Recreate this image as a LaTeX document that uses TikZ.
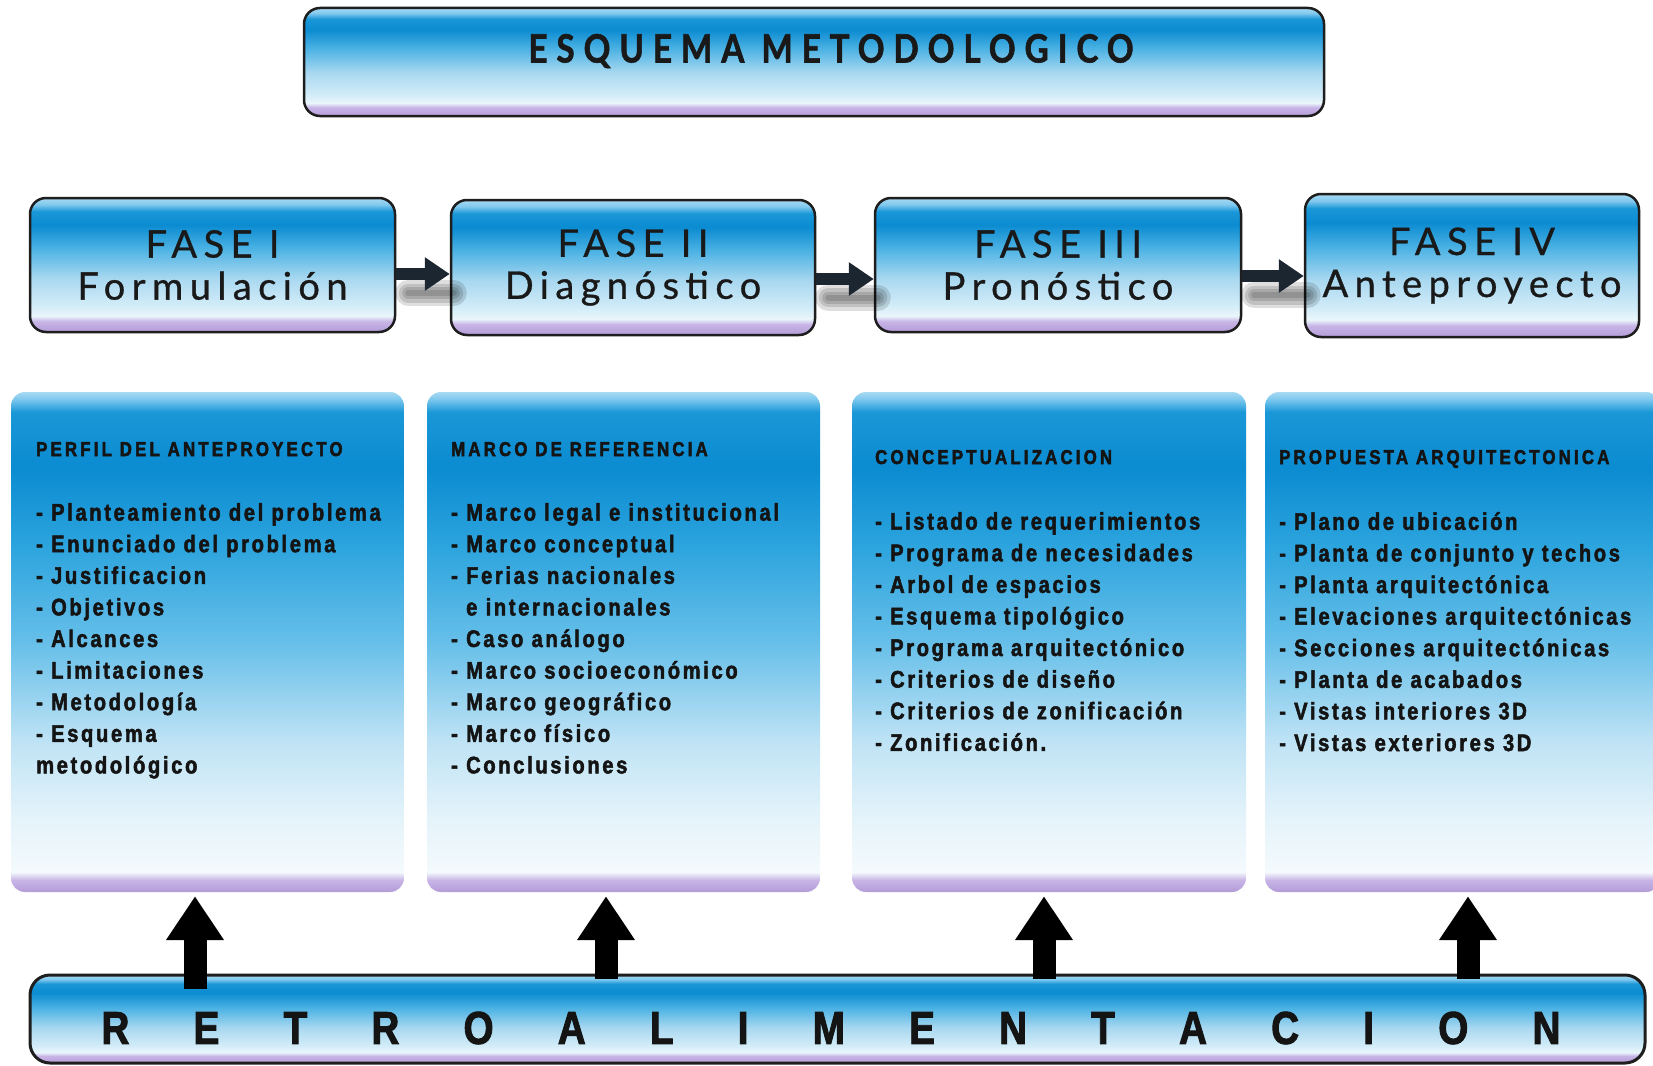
\documentclass[tikz,border=0pt]{standalone}
\usepackage{fontspec}
\usetikzlibrary{arrows.meta,calc}
\newfontfamily\bodyf{Liberation Sans Bold}[FakeStretch=0.84,LetterSpace=11,FakeBold=2]
\newfontfamily\hdrf{Liberation Sans Bold}[FakeStretch=0.84,LetterSpace=16,FakeBold=2.5]
\newfontfamily\barf{Liberation Sans Bold}[FakeStretch=0.84,FakeBold=2]
\newfontfamily\titlef{Lato Bold}[FakeStretch=0.85,LetterSpace=23,FakeBold=1.5]
\newfontfamily\phasef{Lato}[LetterSpace=17,FakeBold=0.8]

\definecolor{lavA}{HTML}{B49CD8}
\definecolor{lavB}{HTML}{C8B5E6}
\definecolor{paleA}{HTML}{EAF6FB}
\definecolor{paleB}{HTML}{D2ECF8}
\definecolor{paleW}{HTML}{F4FAFD}
\definecolor{paleC}{HTML}{E4F3FA}
\definecolor{midC}{HTML}{A9D8F0}
\definecolor{midD}{HTML}{BFE3F5}
\definecolor{midB}{HTML}{4DB3E4}
\definecolor{midE}{HTML}{66BFE9}
\definecolor{midF}{HTML}{2AA3DD}
\definecolor{deepB}{HTML}{0B8BD1}
\definecolor{deepC}{HTML}{1A97D7}
\definecolor{topA}{HTML}{7FC8EE}
\definecolor{topB}{HTML}{A8DAF2}
\definecolor{edge}{HTML}{1E1E1E}
\definecolor{flowc}{HTML}{1C2630}

\pgfdeclareverticalshading{glossy}{100bp}{color(0bp)=(lavA); color(25bp)=(lavA); color(29bp)=(lavB); color(31bp)=(paleA); color(35bp)=(paleB); color(45bp)=(midC); color(56bp)=(midB); color(65bp)=(deepB); color(70bp)=(deepC); color(72.5bp)=(topA); color(75bp)=(topB); color(100bp)=(topB)}
\pgfdeclareverticalshading{panel}{100bp}{color(0bp)=(lavA); color(25bp)=(lavA); color(26.2bp)=(lavB); color(27bp)=(paleW); color(32.5bp)=(paleC); color(40bp)=(midD); color(50bp)=(midE); color(60bp)=(midF); color(67.5bp)=(deepB); color(73bp)=(deepC); color(74.3bp)=(topA); color(75bp)=(topB); color(100bp)=(topB)}

\tikzset{
  glossbox/.style={draw=edge, line width=2.5pt, rounded corners=16pt, shading=glossy, inner sep=0pt},
  phasebox/.style={glossbox, align=center, text=black!90, font=\phasef\fontsize{38}{42}\selectfont},
  panelbox/.style={shading=panel, rounded corners=14pt, inner sep=0pt, minimum height=500pt},
  hdr/.style={inner sep=0pt, anchor=base west, text=black!92, font=\hdrf\fontsize{20}{22}\selectfont},
  lst/.style={inner sep=0pt, anchor=north west, align=left, text=black!92, font=\bodyf\fontsize{24}{31.6}\selectfont},
  flow/.style={draw=flowc, line width=12pt, -{Triangle[width=32pt,length=25pt]}},
  flowshadow/.style={draw=black, opacity=0.13, line width=#1, line cap=round},
  uparr/.style={draw=black, line width=23pt, -{Triangle[width=55pt,length=44pt]}}
}

\begin{document}
\begin{tikzpicture}[x=1pt,y=-1pt]
\useasboundingbox (0,0) rectangle (1653,1065);
\fill[white] (0,0) rectangle (1653,1065);

% title
\node[glossbox, minimum width=1020pt, minimum height=108pt] (title) at (814,62) {};
\node[inner sep=0pt, text=black!90, font=\titlef\fontsize{39}{42}\selectfont] (ttext) at ([xshift=17pt,yshift=11pt]title.center) {ESQUEMA METODOLOGICO};

% phases
\node[phasebox, minimum width=365pt, minimum height=134pt] (p1) at (212.5,265) {FASE I\\Formulación};
\node[phasebox, minimum width=364pt, minimum height=135pt] (p2) at (633,267.5) {FASE II\\Diagnóstico};
\node[phasebox, minimum width=366pt, minimum height=134pt] (p3) at (1058,265) {FASE III\\Pronóstico};
\node[phasebox, minimum width=334pt, minimum height=143pt] (p4) at (1472,265.5) {FASE IV\\Anteproyecto};

% flow arrow shadows (soft)
\foreach \w in {26,19,12,6}{
  \draw[flowshadow=\w pt] ([xshift=12pt,yshift=-28pt]p1.east) -- ([xshift=4pt,yshift=-28pt]p1.east -| p2.west);
  \draw[flowshadow=\w pt] ([xshift=12pt,yshift=-30pt]p2.east) -- ([xshift=4pt,yshift=-30pt]p2.east -| p3.west);
  \draw[flowshadow=\w pt] ([xshift=12pt,yshift=-30pt]p3.east) -- ([xshift=4pt,yshift=-30pt]p3.east -| p4.west);
}
% flow arrows
\draw[flow] ([yshift=-9pt]p1.east) -- ([yshift=-9pt]p1.east -| p2.west);
\draw[flow] ([yshift=-11.5pt]p2.east) -- ([yshift=-11.5pt]p2.east -| p3.west);
\draw[flow] ([yshift=-11pt]p3.east) -- ([yshift=-11pt]p3.east -| p4.west);

% panels
\node[panelbox, minimum width=393pt] (b1) at (207.5,642) {};
\node[panelbox, minimum width=393pt] (b2) at (623.5,642) {};
\node[panelbox, minimum width=394pt] (b3) at (1049,642) {};
\node[panelbox, minimum width=395pt] (b4) at (1462.5,642) {};

\node[hdr] (h1) at (36,456) {PERFIL DEL ANTEPROYECTO};
\node[lst] (l1) at (36,503) {- Planteamiento del problema\\- Enunciado del problema\\- Justificacion\\- Objetivos\\- Alcances\\- Limitaciones\\- Metodología\\- Esquema\\metodológico};

\node[hdr] (h2) at (451,456) {MARCO DE REFERENCIA};
\node[lst] (l2) at (451,503) {- Marco legal e institucional\\- Marco conceptual\\- Ferias nacionales\\\phantom{- }e internacionales\\- Caso análogo\\- Marco socioeconómico\\- Marco geográfico\\- Marco físico\\- Conclusiones};

\node[hdr] (h3) at (875,464) {CONCEPTUALIZACION};
\node[lst] (l3) at (875,512) {- Listado de requerimientos\\- Programa de necesidades\\- Arbol de espacios\\- Esquema tipológico\\- Programa arquitectónico\\- Criterios de diseño\\- Criterios de zonificación\\- Zonificación.};

\node[hdr] (h4) at (1279,464) {PROPUESTA ARQUITECTONICA};
\node[lst] (l4) at (1279,512) {- Plano de ubicación\\- Planta de conjunto y techos\\- Planta arquitectónica\\- Elevaciones arquitectónicas\\- Secciones arquitectónicas\\- Planta de acabados\\- Vistas interiores 3D\\- Vistas exteriores 3D};

% bottom bar
\node[glossbox, rounded corners=20pt, line width=3pt, minimum width=1615pt, minimum height=88pt] (bar) at (837.5,1019) {};
\node[inner sep=0pt, text=black!92, font=\barf\fontsize{46}{50}\selectfont] (btext) at (831,1028) {\makebox[1459pt][s]{R\hfill E\hfill T\hfill R\hfill O\hfill A\hfill L\hfill I\hfill M\hfill E\hfill N\hfill T\hfill A\hfill C\hfill I\hfill O\hfill N}};

% feedback arrows
\draw[uparr] ([xshift=-12.5pt]b1.south |- bar.north) ++(0,15) -- ([xshift=-12.5pt,yshift=-4pt]b1.south);
\draw[uparr] ([xshift=-17.5pt]b2.south |- bar.north) ++(0,5) -- ([xshift=-17.5pt,yshift=-4pt]b2.south);
\draw[uparr] ([xshift=-5pt]b3.south |- bar.north) ++(0,5) -- ([xshift=-5pt,yshift=-4pt]b3.south);
\draw[uparr] ([xshift=5.5pt]b4.south |- bar.north) ++(0,5) -- ([xshift=5.5pt,yshift=-4pt]b4.south);
\end{tikzpicture}
\end{document}
